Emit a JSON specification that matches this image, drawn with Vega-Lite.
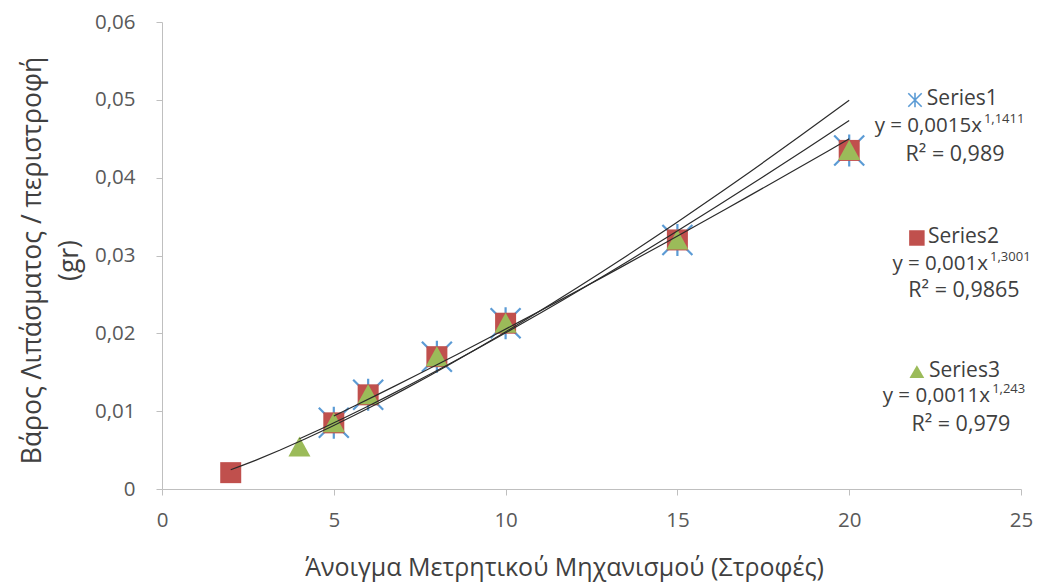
{
  "$schema": "https://vega.github.io/schema/vega-lite/v6.json",
  "width": 859,
  "height": 467,
  "autosize": {"type": "none"},
  "padding": {"left": 162, "top": 22, "right": 26, "bottom": 95},
  "background": "white",
  "config": {
    "view": {"stroke": null},
    "font": "Open Sans",
    "axis": {
      "grid": false,
      "domainColor": "#BFBFBF",
      "tickColor": "#BFBFBF",
      "labelColor": "#595959",
      "titleColor": "#404040",
      "labelFont": "Open Sans",
      "titleFont": "Open Sans",
      "labelFontSize": 20.5,
      "titleFontSize": 25,
      "titleFontWeight": "normal",
      "tickSize": 6
    }
  },
  "data": {
    "values": [
      {"series": "Series1", "x": 5, "y": 0.0085},
      {"series": "Series1", "x": 6, "y": 0.0121},
      {"series": "Series1", "x": 8, "y": 0.017},
      {"series": "Series1", "x": 10, "y": 0.0213},
      {"series": "Series1", "x": 15, "y": 0.032},
      {"series": "Series1", "x": 20, "y": 0.0435},
      {"series": "Series2", "x": 2, "y": 0.0021},
      {"series": "Series2", "x": 5, "y": 0.0085},
      {"series": "Series2", "x": 6, "y": 0.0121},
      {"series": "Series2", "x": 8, "y": 0.017},
      {"series": "Series2", "x": 10, "y": 0.0213},
      {"series": "Series2", "x": 15, "y": 0.032},
      {"series": "Series2", "x": 20, "y": 0.0435},
      {"series": "Series3", "x": 4, "y": 0.0054},
      {"series": "Series3", "x": 5, "y": 0.0085},
      {"series": "Series3", "x": 6, "y": 0.0121},
      {"series": "Series3", "x": 8, "y": 0.017},
      {"series": "Series3", "x": 10, "y": 0.0213},
      {"series": "Series3", "x": 15, "y": 0.032},
      {"series": "Series3", "x": 20, "y": 0.0435}
    ]
  },
  "layer": [
    {
      "mark": {"type": "point", "size": 400, "strokeWidth": 2.2, "opacity": 1},
      "encoding": {
        "x": {
          "field": "x", "type": "quantitative",
          "scale": {"domain": [0, 25], "nice": false, "zero": false},
          "axis": {
            "values": [0, 5, 10, 15, 20, 25],
            "title": "Άνοιγμα Μετρητικού Μηχανισμού (Στροφές)",
            "labelPadding": 15,
            "titlePadding": 25,
            "titleX": 402,
            "labelFlush": false
          }
        },
        "y": {
          "field": "y", "type": "quantitative",
          "scale": {"domain": [0, 0.06], "nice": false, "zero": false},
          "axis": {
            "values": [0, 0.01, 0.02, 0.03, 0.04, 0.05, 0.06],
            "labelExpr": "datum.value == 0 ? '0' : replace(format(datum.value, '.2f'), '.', ',')",
            "labelPadding": 21,
            "labelFlush": false,
            "title": ["Βάρος Λιπάσματος / περιστροφή", "(gr)"],
            "titleFontSize": 26.5,
            "titleLineHeight": 37,
            "titleBaseline": "middle",
            "titleX": -130,
            "titleY": 238
          }
        },
        "shape": {
          "field": "series", "type": "nominal",
          "scale": {
            "domain": ["Series1", "Series2", "Series3"],
            "range": [
              "M-1.5,-1.5L1.5,1.5M-1.5,1.5L1.5,-1.5M0,-1.6L0,1.6",
              "M-1.05,-1.05L1.05,-1.05L1.05,1.05L-1.05,1.05Z",
              "M0,-1.05L1.1,0.95L-1.1,0.95Z"
            ]
          },
          "legend": null
        },
        "fill": {
          "field": "series", "type": "nominal",
          "scale": {"domain": ["Series1", "Series2", "Series3"], "range": ["transparent", "#C0504D", "#9BBB59"]},
          "legend": null
        },
        "stroke": {
          "field": "series", "type": "nominal",
          "scale": {"domain": ["Series1", "Series2", "Series3"], "range": ["#5B9BD5", "transparent", "transparent"]},
          "legend": null
        }
      }
    },
    {
      "transform": [
        {"regression": "y", "on": "x", "groupby": ["series"], "method": "pow"}
      ],
      "mark": {"type": "line", "color": "#2b2b2b", "strokeWidth": 1.2},
      "encoding": {
        "x": {"field": "x", "type": "quantitative"},
        "y": {"field": "y", "type": "quantitative"},
        "detail": {"field": "series"}
      }
    },
    {
      "data": {"values": [{}]},
      "mark": {"type": "point", "shape": "M-1.5,-1.5L1.5,1.5M-1.5,1.5L1.5,-1.5M0,-1.6L0,1.6", "size": 80, "filled": false, "stroke": "#5B9BD5", "strokeWidth": 1.6, "opacity": 1},
      "encoding": {"x": {"datum": 21.915, "type": "quantitative"}, "y": {"datum": 0.04998, "type": "quantitative"}}
    },
    {
      "data": {"values": [{}]},
      "mark": {"type": "text", "text": "Series1", "align": "left", "baseline": "middle", "fontSize": 21, "color": "#404040"},
      "encoding": {"x": {"datum": 22.26, "type": "quantitative"}, "y": {"datum": 0.0501, "type": "quantitative"}}
    },
    {
      "data": {"values": [{}]},
      "mark": {"type": "text", "text": "y = 0,0015x", "align": "right", "baseline": "middle", "fontSize": 20.5, "color": "#404040"},
      "encoding": {"x": {"datum": 23.865, "type": "quantitative"}, "y": {"datum": 0.04664, "type": "quantitative"}}
    },
    {
      "data": {"values": [{}]},
      "mark": {"type": "text", "text": "1,1411", "align": "left", "baseline": "middle", "fontSize": 13, "color": "#404040"},
      "encoding": {"x": {"datum": 23.92, "type": "quantitative"}, "y": {"datum": 0.04754, "type": "quantitative"}}
    },
    {
      "data": {"values": [{}]},
      "mark": {"type": "text", "text": "R² = 0,989", "align": "center", "baseline": "middle", "fontSize": 21.5, "color": "#404040"},
      "encoding": {"x": {"datum": 23.08, "type": "quantitative"}, "y": {"datum": 0.04291, "type": "quantitative"}}
    },
    {
      "data": {"values": [{}]},
      "mark": {"type": "point", "shape": "M-1,-1L1,-1L1,1L-1,1Z", "size": 240, "filled": true, "fill": "#C0504D", "strokeWidth": 0, "opacity": 1},
      "encoding": {"x": {"datum": 21.97, "type": "quantitative"}, "y": {"datum": 0.03225, "type": "quantitative"}}
    },
    {
      "data": {"values": [{}]},
      "mark": {"type": "text", "text": "Series2", "align": "left", "baseline": "middle", "fontSize": 21, "color": "#404040"},
      "encoding": {"x": {"datum": 22.29, "type": "quantitative"}, "y": {"datum": 0.03237, "type": "quantitative"}}
    },
    {
      "data": {"values": [{}]},
      "mark": {"type": "text", "text": "y = 0,001x", "align": "right", "baseline": "middle", "fontSize": 20.5, "color": "#404040"},
      "encoding": {"x": {"datum": 24.04, "type": "quantitative"}, "y": {"datum": 0.02891, "type": "quantitative"}}
    },
    {
      "data": {"values": [{}]},
      "mark": {"type": "text", "text": "1,3001", "align": "left", "baseline": "middle", "fontSize": 13, "color": "#404040"},
      "encoding": {"x": {"datum": 24.1, "type": "quantitative"}, "y": {"datum": 0.02981, "type": "quantitative"}}
    },
    {
      "data": {"values": [{}]},
      "mark": {"type": "text", "text": "R² = 0,9865", "align": "center", "baseline": "middle", "fontSize": 21.5, "color": "#404040"},
      "encoding": {"x": {"datum": 23.34, "type": "quantitative"}, "y": {"datum": 0.02544, "type": "quantitative"}}
    },
    {
      "data": {"values": [{}]},
      "mark": {"type": "point", "shape": "M0,-1L1.1,0.9L-1.1,0.9Z", "size": 180, "filled": true, "fill": "#9BBB59", "strokeWidth": 0, "opacity": 1},
      "encoding": {"x": {"datum": 21.97, "type": "quantitative"}, "y": {"datum": 0.01503, "type": "quantitative"}}
    },
    {
      "data": {"values": [{}]},
      "mark": {"type": "text", "text": "Series3", "align": "left", "baseline": "middle", "fontSize": 21, "color": "#404040"},
      "encoding": {"x": {"datum": 22.32, "type": "quantitative"}, "y": {"datum": 0.01515, "type": "quantitative"}}
    },
    {
      "data": {"values": [{}]},
      "mark": {"type": "text", "text": "y = 0,0011x", "align": "right", "baseline": "middle", "fontSize": 20.5, "color": "#404040"},
      "encoding": {"x": {"datum": 24.1, "type": "quantitative"}, "y": {"datum": 0.01195, "type": "quantitative"}}
    },
    {
      "data": {"values": [{}]},
      "mark": {"type": "text", "text": "1,243", "align": "left", "baseline": "middle", "fontSize": 13, "color": "#404040"},
      "encoding": {"x": {"datum": 24.16, "type": "quantitative"}, "y": {"datum": 0.01285, "type": "quantitative"}}
    },
    {
      "data": {"values": [{}]},
      "mark": {"type": "text", "text": "R² = 0,979", "align": "center", "baseline": "middle", "fontSize": 21.5, "color": "#404040"},
      "encoding": {"x": {"datum": 23.25, "type": "quantitative"}, "y": {"datum": 0.00825, "type": "quantitative"}}
    }
  ]
}
